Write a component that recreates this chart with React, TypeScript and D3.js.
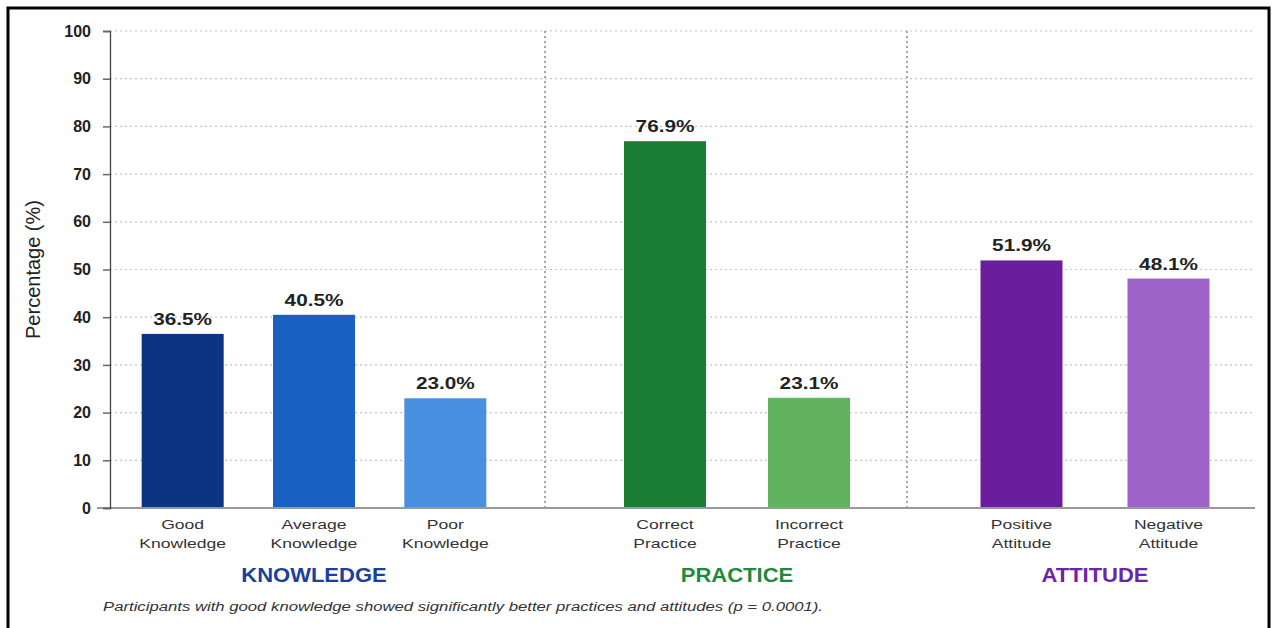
import { useEffect, useRef } from 'react'
import * as d3 from 'd3'

// --- DATA ---
const groups = ['KNOWLEDGE', 'PRACTICE', 'ATTITUDE']
const categories = [
  ['Good Knowledge', 'Average Knowledge', 'Poor Knowledge'],
  ['Correct Practice', 'Incorrect Practice'],
  ['Positive Attitude', 'Negative Attitude'],
]
const values = [
  [36.5, 40.5, 23.0],
  [76.9, 23.1],
  [51.9, 48.1],
]
const yTicks = [0, 10, 20, 30, 40, 50, 60, 70, 80, 90, 100]
const footnote =
  'Participants with good knowledge showed significantly better practices and attitudes (p = 0.0001).'

// --- STYLE ---
const barColors = [
  ['#0b3580', '#1a5fc2', '#4a90e0'],
  ['#1c7d34', '#62b360'],
  ['#6a1e9e', '#9d63c8'],
]
const groupColors = ['#1b3f9e', '#1f8a3f', '#6a26a3']
const FONT = '"Liberation Sans", Arial, sans-serif'

const W = 1276
const H = 628

export default function App() {
  const svgRef = useRef<SVGSVGElement | null>(null)

  useEffect(() => {
    document.body.style.margin = '0'
    if (!svgRef.current) return

    const svg = d3.select(svgRef.current)
    svg.selectAll('*').remove()

    const left = 110
    const right = 1255
    const top = 31
    const bottom = 508

    const y = d3.scaleLinear().domain([0, 100]).range([bottom, top])

    // the source image is stretched sideways, so text gets a horizontal scale
    const wideText = (
      parent: d3.Selection<any, any, any, any>,
      x: number,
      yy: number,
      sx: number,
      txt: string
    ) =>
      parent
        .append('g')
        .attr('transform', `translate(${x},${yy}) scale(${sx},1)`)
        .append('text')
        .attr('text-anchor', 'middle')
        .attr('font-family', FONT)
        .text(txt)

    // frame
    svg
      .append('rect')
      .attr('x', 8)
      .attr('y', 8)
      .attr('width', 1261)
      .attr('height', 640)
      .attr('fill', '#fff')
      .attr('stroke', '#000')
      .attr('stroke-width', 3)

    // --- GRID ---
    svg
      .append('g')
      .selectAll('line')
      .data(yTicks.filter((t) => t > 0))
      .enter()
      .append('line')
      .attr('x1', left)
      .attr('x2', right)
      .attr('y1', (d) => y(d))
      .attr('y2', (d) => y(d))
      .attr('stroke', '#c4c4c4')
      .attr('stroke-width', 1.2)
      .attr('stroke-dasharray', '2,3')

    // group ranges (layout only)
    const groupRanges: [number, number][] = [
      [117, 511],
      [593, 881],
      [948, 1242],
    ]
    const separators = [545, 907]
    const barWidth = 82

    svg
      .append('g')
      .selectAll('line')
      .data(separators)
      .enter()
      .append('line')
      .attr('x1', (d) => d)
      .attr('x2', (d) => d)
      .attr('y1', top)
      .attr('y2', bottom)
      .attr('stroke', '#777')
      .attr('stroke-width', 1.3)
      .attr('stroke-dasharray', '2,3')

    // --- BARS ---
    groups.forEach((g, gi) => {
      const x = d3.scaleBand<string>().domain(categories[gi]).range(groupRanges[gi])
      const cx = (c: string) => (x(c) ?? 0) + x.bandwidth() / 2
      const rows = categories[gi].map((c, i) => ({ c, v: values[gi][i], color: barColors[gi][i] }))
      const grp = svg.append('g')

      grp
        .selectAll('rect')
        .data(rows)
        .enter()
        .append('rect')
        .attr('x', (d) => cx(d.c) - barWidth / 2)
        .attr('y', (d) => y(d.v))
        .attr('width', barWidth)
        .attr('height', (d) => y(0) - y(d.v))
        .attr('fill', (d) => d.color)

      rows.forEach((d) => {
        wideText(grp, cx(d.c), y(d.v) - 9, 1.22, `${d.v.toFixed(1)}%`)
          .attr('font-weight', 'bold')
          .attr('font-size', 17)
          .attr('fill', '#222')

        d.c.split(' ').forEach((w, i) => {
          wideText(grp, cx(d.c), 529 + i * 19, 1.3, w)
            .attr('font-size', 13.5)
            .attr('fill', '#333')
        })
      })

      const [r0, r1] = groupRanges[gi]
      wideText(grp, (r0 + r1) / 2, 582, 1.1, g)
        .attr('font-weight', 'bold')
        .attr('font-size', 20)
        .attr('fill', groupColors[gi])
    })

    // --- AXES ---
    svg
      .append('line')
      .attr('x1', 97)
      .attr('x2', right)
      .attr('y1', bottom)
      .attr('y2', bottom)
      .attr('stroke', '#999')
      .attr('stroke-width', 2)

    const yAxis = svg
      .append('g')
      .attr('transform', `translate(${left},0)`)
      .call(d3.axisLeft(y).tickValues(yTicks).tickSize(7).tickPadding(12))
    yAxis.select('.domain').attr('stroke', '#444').attr('stroke-width', 1.3)
    yAxis.selectAll('.tick line').attr('stroke', '#666').attr('stroke-width', 1.5)
    yAxis
      .selectAll('.tick text')
      .attr('font-family', FONT)
      .attr('font-weight', 'bold')
      .attr('font-size', 16)
      .attr('fill', '#222')

    svg
      .append('text')
      .attr('transform', `translate(40, ${(top + bottom) / 2}) rotate(-90)`)
      .attr('text-anchor', 'middle')
      .attr('font-family', FONT)
      .attr('font-size', 20)
      .attr('fill', '#222')
      .text('Percentage (%)')

    svg
      .append('text')
      .attr('x', 103)
      .attr('y', 611)
      .attr('font-family', FONT)
      .attr('font-style', 'italic')
      .attr('font-size', 12.5)
      .attr('fill', '#333')
      .attr('textLength', 720)
      .attr('lengthAdjust', 'spacingAndGlyphs')
      .text(footnote)
  }, [])

  return <svg ref={svgRef} width={W} height={H} style={{ display: 'block' }} />
}
